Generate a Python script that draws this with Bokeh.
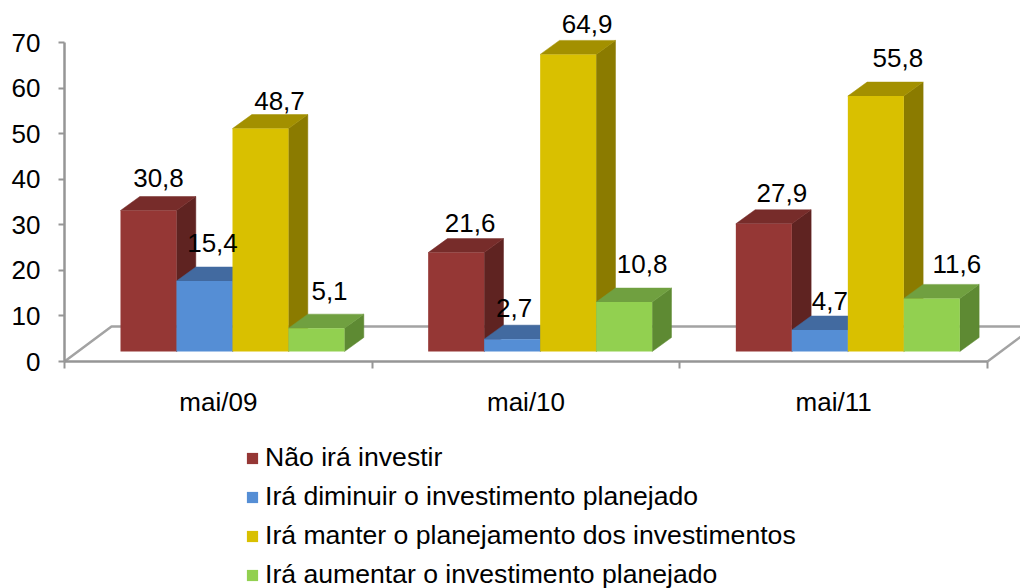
from bokeh.plotting import figure
from bokeh.models import ColumnDataSource, FixedTicker, Legend, LegendItem
from bokeh.embed import file_html
from bokeh.resources import INLINE

categories = ["mai/09", "mai/10", "mai/11"]
y_ticks = [0, 10, 20, 30, 40, 50, 60, 70]
nao_investir = [30.8, 21.6, 27.9]
diminuir = [15.4, 2.7, 4.7]
manter = [48.7, 64.9, 55.8]
aumentar = [5.1, 10.8, 11.6]
series_names = ["Não irá investir", "Irá diminuir o investimento planejado",
                "Irá manter o planejamento dos investimentos", "Irá aumentar o investimento planejado"]

front_colors = ["#953735", "#558ED5", "#D9C000", "#92D050"]
top_colors = ["#772C2A", "#426AA0", "#A39000", "#70A040"]
side_colors = ["#5F2321", "#38598A", "#8B7B00", "#5E8A33"]

# label offsets from the top-back centre of each bar, in pixels (per series, per group)
label_dx = [[10, 14, 18], [8, 2, 10], [19, 19, 22], [13, 18, 25]]
label_dy = [[-19, -16, -17], [-24, -17, -15], [-14, -16, -24], [-23, -24, -20]]

FONT = "Liberation Sans"
W, H = 1020, 588
X0, Y0 = 64, 361       # pixel position of the axes origin
PX_X = 307.67          # pixels per category
PX_Y = 319 / 70        # pixels per unit
GAP = 56 / PX_X
BAR_W = 56 / PX_X
DEPTH_X = 19.3 / PX_X
DEPTH_Y = 14 / PX_Y
BASE = 10 / PX_Y
STRETCH = 1.0045
FLOOR_X = 47 / PX_X
FLOOR_Y = 35 / PX_Y

p = figure(width=W, height=H, output_backend="svg", toolbar_location=None,
           x_range=(-X0 / PX_X, (W - X0) / PX_X), y_range=(-(H - Y0) / PX_Y, Y0 / PX_Y),
           min_border=0, background_fill_color="white", border_fill_color="white",
           outline_line_color=None)
p.grid.visible = False

# floor
grey = "#A3A3A3"
p.line([0, FLOOR_X, 3 + FLOOR_X], [0, FLOOR_Y, FLOOR_Y], line_color=grey, line_width=2.5)
p.line([3, 3 + FLOOR_X], [0, FLOOR_Y], line_color=grey, line_width=2.5)

legend_items = []
all_series = [nao_investir, diminuir, manter, aumentar]
for s, vals in enumerate(all_series):
    x0 = [c + GAP + s * BAR_W for c in range(3)]
    x1 = [x + BAR_W for x in x0]
    tops = [BASE + v * STRETCH for v in vals]
    p.patches([[b, b, b + DEPTH_X, b + DEPTH_X] for b in x1],
              [[BASE, t, t + DEPTH_Y, BASE + DEPTH_Y] for t in tops],
              fill_color=side_colors[s], line_color=side_colors[s], line_width=0.5)
    p.patches([[a, b, b + DEPTH_X, a + DEPTH_X] for a, b in zip(x0, x1)],
              [[t, t, t + DEPTH_Y, t + DEPTH_Y] for t in tops],
              fill_color=top_colors[s], line_color=top_colors[s], line_width=0.5)
    r = p.quad(left=x0, right=x1, bottom=[BASE] * 3, top=tops,
               fill_color=front_colors[s], line_color=None)
    legend_items.append(LegendItem(label=series_names[s], renderers=[r]))

# data labels
for s, vals in enumerate(all_series):
    src = ColumnDataSource(dict(
        x=[c + GAP + (s + 0.5) * BAR_W for c in range(3)],
        y=[BASE + v * STRETCH + DEPTH_Y for v in vals],
        t=[f"{v:.1f}".replace(".", ",") for v in vals],
        dx=label_dx[s], dy=label_dy[s]))
    p.text(x="x", y="y", text="t", x_offset="dx", y_offset="dy", source=src,
           text_font={"value": FONT}, text_font_size={"value": "26px"}, text_color="#000000",
           text_align="center", text_baseline="middle")

ya = p.yaxis[0]
ya.fixed_location = 0
ya.bounds = (0, 70)
ya.ticker = FixedTicker(ticks=y_ticks)
ya.major_tick_in = 0
ya.major_tick_out = 6
ya.minor_tick_out = 0
ya.minor_tick_in = 0
ya.axis_line_color = "#969696"
ya.axis_line_width = 2.5
ya.major_tick_line_color = "#969696"
ya.major_tick_line_width = 2
ya.major_label_standoff = 18
ya.major_label_text_font = FONT
ya.major_label_text_font_size = "26px"
ya.major_label_text_color = "#000000"

xa = p.xaxis[0]
xa.fixed_location = 0
xa.bounds = (0, 3)
xa.ticker = FixedTicker(ticks=[0.5, 1.5, 2.5], minor_ticks=[0, 1, 2, 3])
xa.major_label_overrides = {0.5: categories[0], 1.5: categories[1], 2.5: categories[2]}
xa.major_tick_in = 0
xa.major_tick_out = 0
xa.minor_tick_in = 0
xa.minor_tick_out = 7
xa.axis_line_color = "#969696"
xa.axis_line_width = 2.5
xa.minor_tick_line_color = "#969696"
xa.minor_tick_line_width = 2
xa.major_label_standoff = 18
xa.major_label_text_font = FONT
xa.major_label_text_font_size = "26px"
xa.major_label_text_color = "#000000"

legend = Legend(items=legend_items, location=(245, -2),
                orientation="vertical", padding=0, margin=0, spacing=8,
                glyph_width=14, glyph_height=14, label_standoff=6, label_height=28,
                label_text_font=FONT, label_text_font_size="26.6px", label_text_color="#000000",
                border_line_color=None, background_fill_alpha=0)
p.add_layout(legend, "center")

open("out.html", "w").write(file_html(p, INLINE))
